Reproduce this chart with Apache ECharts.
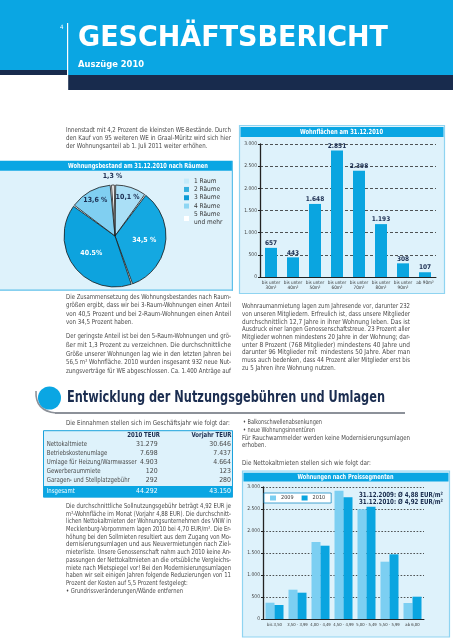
<!DOCTYPE html>
<html><head><meta charset="utf-8">
<script src="https://cdn.jsdelivr.net/npm/echarts@6/dist/echarts.min.js"></script>
<style>html,body{margin:0;padding:0;background:#fff}#c{width:453px;height:640px}</style>
</head><body><div id="c"></div>
<script>
// ---------- data ----------
const pieNames = ['1 Raum', '2 Räume', '3 Räume', '4 Räume', '5 Räume\nund mehr'];
const pieValues = [10.1, 34.5, 40.5, 13.6, 1.3];
const pieLabels = ['10,1 %', '34,5 %', '40.5%', '13,6 %', '1,3 %'];
const areaCats = ['bis unter\n30m²', 'bis unter\n40m²', 'bis unter\n50m²', 'bis unter\n60m²', 'bis unter\n70m²', 'bis unter\n80m²', 'bis unter\n90m²', 'ab 90m²'];
const areaValues = [657, 443, 1648, 2851, 2398, 1193, 308, 107];
const priceCats = ['bis 3,50', '3,50 - 3,99', '4,00 - 4,49', '4,50 - 4,99', '5,00 - 5,49', '5,50 - 5,99', 'ab 6,00'];
const priceSeriesNames = ['2009', '2010'];
const price2009 = [370, 666, 1750, 2916, 2493, 1302, 364];
const price2010 = [318, 598, 1666, 2766, 2552, 1470, 507];
const yMin = 0, yMax = 3000, yStep = 500;
const tableRows = ['Nettokaltmiete', 'Betriebskostenumlage', 'Umlage für Heizung/Warmwasser', 'Gewerberaummiete', 'Garagen- und Stellplatzgebühr'];
const table2010 = ['31.279', '7.698', '4.903', '120', '292'];
const tablePrev = ['30.646', '7.437', '4.664', '123', '280'];
const tableTotal = ['Insgesamt', '44.292', '43.150'];
const tableHead = ['2010 TEUR', 'Vorjahr TEUR'];

// ---------- styles ----------
const BLUE = '#0aa6e3', NAVY = '#182b4d', LIGHT = '#def2fb', BORDER = '#5fc0ea', TXT = '#4a4a4a';
const BODY = '"Liberation Sans Narrow","DejaVu Sans Condensed","Open Sans",sans-serif';
const HEAD = '"DejaVu Sans Condensed","Liberation Sans Narrow","Open Sans",sans-serif';
const pieColors = ['#aadff6', '#14a8e1', '#0da3de', '#80cff1', '#ffffff'];
const legendColors = ['#c6ebfa', '#35b0de', '#0c9bd5', '#8ed6f3', '#ffffff'];

const fmt = v => String(v).replace(/\B(?=(\d{3})+(?!\d))/g, '.');
const mctx = document.createElement('canvas').getContext('2d');
function fontStr(o) { return (o.weight || 'normal') + ' ' + (o.size || 6.8) + 'px ' + (o.fam || BODY); }
function measure(s, o) { mctx.font = fontStr(o); return mctx.measureText(s).width; }
function tx(x, y, s, o) {
  o = o || {};
  let sx = o.sx || 1;
  if (o.w) sx = o.w / measure(s, o);
  return { type: 'text', x: x, y: y, scaleX: sx, z: 100, silent: true,
    style: { text: s, x: 0, y: 0, font: fontStr(o), fill: o.color || TXT,
      textAlign: o.align || 'left', textVerticalAlign: 'middle' } };
}
function para(x, y0, dy, w, lines, lastJust, o) {
  o = o || {};
  const scales = lines.map(s => w / measure(s, o));
  const n = lastJust ? lines.length : lines.length - 1;
  let avg = 0; for (let i = 0; i < n; i++) avg += scales[i]; avg = n ? avg / n : 1;
  return lines.map((s, i) => tx(x, y0 + i * dy, s, Object.assign({}, o, { sx: (i < n) ? scales[i] : Math.min(avg, 1.15) })));
}
function rect(x, y, w, h, fill, stroke, lw, z) {
  return { type: 'rect', silent: true, z: z == null ? -10 : z, shape: { x: x, y: y, width: w, height: h },
    style: { fill: fill || 'transparent', stroke: stroke || 'transparent', lineWidth: lw || 0 } };
}

const G = [];
// header
G.push(rect(0, 0, 453, 75, BLUE));
G.push(rect(0, 70, 67, 5, NAVY));
G.push(rect(68, 75, 385, 15, NAVY));
G.push(rect(67, 23, 1.2, 67, '#ffffff', null, 0, -5));
G.push(tx(60, 27, '4', { size: 6, color: '#ffffff' }));
G.push(tx(78, 38.5, 'GESCHÄFTSBERICHT', { size: 29, weight: 'bold', fam: HEAD, color: '#ffffff', w: 310 }));
G.push(tx(78, 65, 'Auszüge 2010', { size: 9.5, weight: 'bold', fam: HEAD, color: '#ffffff', w: 66 }));

// intro text
G.push(...para(66, 130.7, 7.7, 165, [
  'Innenstadt mit 4,2 Prozent die kleinsten WE-Bestände. Durch',
  'den Kauf von 95 weiteren WE in Graal-Müritz wird sich hier',
  'der Wohnungsanteil ab 1. Juli 2011 weiter erhöhen.'], false));

// pie panel
G.push(rect(0, 170.5, 232, 119.5, LIGHT));
G.push(rect(0, 160.7, 232, 10, BLUE));
G.push(rect(0, 289.5, 233, 1.2, BORDER, null, 0, -5));
G.push(rect(231.8, 160.7, 1.2, 130, BORDER, null, 0, -5));
G.push(tx(138, 165.8, 'Wohnungsbestand am 31.12.2010 nach Räumen', { size: 7, weight: 'bold', color: '#ffffff', w: 140, align: 'center' }));

// chart 1 panel
G.push(rect(239.5, 125.5, 205, 168, LIGHT, '#8fd4f1', 1.2));
G.push(rect(240.5, 127, 203, 10, BLUE));
G.push(tx(341.5, 132, 'Wohnflächen am 31.12.2010', { size: 7, weight: 'bold', color: '#ffffff', w: 83, align: 'center' }));

// text under pie
G.push(...para(66, 297.3, 8.3, 165, [
  'Die Zusammensetzung des Wohnungsbestandes nach Raum-',
  'größen ergibt, dass wir bei 3-Raum-Wohnungen einen Anteil',
  'von 40,5 Prozent und bei 2-Raum-Wohnungen einen Anteil',
  'von 34,5 Prozent haben.'], false));
G.push(...para(66, 336.7, 8.65, 165, [
  'Der geringste Anteil ist bei den 5-Raum-Wohnungen und grö-',
  'ßer mit 1,3 Prozent zu verzeichnen. Die durchschnittliche',
  'Größe unserer Wohnungen lag wie in den letzten Jahren bei',
  '56,5 m² Wohnfläche. 2010 wurden insgesamt 932 neue Nut-',
  'zungsverträge für WE abgeschlossen. Ca. 1.400 Anträge auf'], true));
G.push(...para(242, 306.7, 7.67, 168, [
  'Wohnraumanmietung lagen zum Jahresende vor, darunter 232',
  'von unseren Mitgliedern. Erfreulich ist, dass unsere Mitglieder',
  'durchschnittlich 12,7 Jahre in ihrer Wohnung leben. Das ist',
  'Ausdruck einer langen Genossenschaftstreue. 23 Prozent aller',
  'Mitglieder wohnen mindestens 20 Jahre in der Wohnung; dar-',
  'unter 8 Prozent (768 Mitglieder) mindestens 40 Jahre und',
  'darunter 96 Mitglieder mit  mindestens 50 Jahre. Aber man',
  'muss auch bedenken, dass 44 Prozent aller Mitglieder erst bis',
  'zu 5 Jahren ihre Wohnung nutzen.'], false));

// section heading
G.push({ type: 'bezierCurve', silent: true, z: 5, shape: { x1: 36, y1: 391, cpx1: 35, cpy1: 411, x2: 56, y2: 413 }, style: { stroke: '#8c9199', lineWidth: 1.6, fill: null } });
G.push(rect(55, 412, 350, 2, '#8c9199', null, 0, 5));
G.push({ type: 'circle', silent: true, z: 6, shape: { cx: 49.5, cy: 398, r: 11.5 }, style: { fill: BLUE } });
G.push(tx(67, 398, 'Entwicklung der Nutzungsgebühren und Umlagen', { size: 16, weight: 'bold', fam: HEAD, color: '#1b2d50', w: 318 }));

// table
G.push(tx(66, 423.3, 'Die Einnahmen stellen sich im Geschäftsjahr wie folgt dar:', { w: 164 }));
G.push(rect(43.5, 430.7, 189, 66.5, LIGHT, '#1aa2dc', 1));
G.push(rect(44, 486, 188, 11, BLUE, null, 0, -4));
const TS = { size: 6.9 };
const labelScale = 90 / measure(tableRows[2], TS);
G.push(tx(160, 435.3, tableHead[0], { weight: 'bold', color: NAVY, align: 'right', size: 6.9, sx: labelScale }));
G.push(tx(231.5, 435.3, tableHead[1], { weight: 'bold', color: NAVY, align: 'right', size: 6.9, sx: labelScale }));
const rowY = [444.3, 453.3, 462.3, 471.7, 480.7];
tableRows.forEach((r, i) => {
  G.push(tx(46.7, rowY[i], r, { size: 6.9, sx: labelScale }));
  G.push(tx(157.7, rowY[i], table2010[i], { align: 'right', size: 6.9 }));
  G.push(tx(231, rowY[i], tablePrev[i], { align: 'right', size: 6.9 }));
});
G.push(tx(46.7, 490.8, tableTotal[0], { size: 6.9, color: '#ffffff', sx: labelScale }));
G.push(tx(157.7, 490.8, tableTotal[1], { size: 6.9, color: '#ffffff', align: 'right' }));
G.push(tx(231, 490.8, tableTotal[2], { size: 6.9, color: '#ffffff', align: 'right' }));

// text below table
G.push(...para(66, 506, 7.73, 165, [
  'Die durchschnittliche Sollnutzungsgebühr beträgt 4,92 EUR je',
  'm²-Wohnfläche im Monat (Vorjahr 4,88 EUR). Die durchschnitt-',
  'lichen Nettokaltmieten der Wohnungsunternehmen des VNW in',
  'Mecklenburg-Vorpommern lagen 2010 bei 4,70 EUR/m². Die Er-',
  'höhung bei den Sollmieten resultiert aus dem Zugang von Mo-',
  'dernisierungsumlagen und aus Neuvermietungen nach Ziel-',
  'mieterliste. Unsere Genossenschaft nahm auch 2010 keine An-',
  'passungen der Nettokaltmieten an die ortsübliche Vergleichs-',
  'miete nach Mietspiegel vor! Bei den Modernisierungsumlagen',
  'haben wir seit einigen Jahren folgende Reduzierungen von 11',
  'Prozent der Kosten auf 5,5 Prozent festgelegt:'], false));
G.push(tx(66, 591, '• Grundrissveränderungen/Wände entfernen', { w: 117 }));

// right column above chart 2
G.push(tx(243, 422.3, '• Balkonschwellenabsenkungen', { w: 79 }));
G.push(tx(243, 430, '• neue Wohnungsinnentüren', { w: 72 }));
G.push(...para(242, 438, 7.7, 168, [
  'Für Rauchwarnmelder werden keine Modernisierungsumlagen',
  'erhoben.'], false));
G.push(tx(242, 463.3, 'Die Nettokaltmieten stellen sich wie folgt dar:', { w: 129 }));

// chart 2 panel
G.push(rect(242.5, 471, 207, 166, LIGHT, '#8fd4f1', 1.2));
G.push(rect(243.5, 472.7, 205, 8.8, BLUE));
G.push(tx(345.5, 477.2, 'Wohnungen nach Preissegmenten', { size: 7, weight: 'bold', color: '#ffffff', w: 96, align: 'center' }));
G.push(tx(359, 495, '31.12.2009: Ø 4,88 EUR/m²', { size: 7, weight: 'bold', color: NAVY, w: 84 }));
G.push(tx(359, 502.3, '31.12.2010: Ø 4,92 EUR/m²', { size: 7, weight: 'bold', color: NAVY, w: 84 }));

function valueAxis(gi, dash) {
  return { gridIndex: gi, type: 'value', min: yMin, max: yMax, interval: yStep,
    axisLine: { show: true, lineStyle: { color: '#222', width: 1.3 } },
    axisTick: { show: true, length: 2, lineStyle: { color: '#222' } },
    axisLabel: { fontSize: 5, color: '#444', margin: 3, fontFamily: BODY, formatter: v => fmt(v) },
    splitLine: { show: true, lineStyle: { type: dash, color: '#2a2a2a', width: 0.8 } } };
}
function catAxis(gi, data, fs) {
  return { gridIndex: gi, type: 'category', data: data,
    axisLine: { lineStyle: { color: '#222', width: 1 } },
    axisTick: { length: 2, lineStyle: { color: '#222' } },
    axisLabel: { fontSize: fs, lineHeight: 5.4, color: '#333', margin: 3, interval: 0, fontFamily: BODY } };
}

const pieLabelStyle = i => ({ fontSize: 7, fontWeight: 'bold', fontFamily: BODY, color: (i === 1 || i === 2) ? '#ffffff' : '#1b2d50' });
// transparent label rings: each shows the labels of the listed slices at its own radius
function labelRing(radius, shown) {
  return { type: 'pie', silent: true, z: 3, center: [115, 236], radius: radius, startAngle: 90,
    labelLine: { show: false },
    data: pieNames.map((n, i) => ({ name: n, value: pieValues[i], itemStyle: { color: 'rgba(0,0,0,0)' },
      label: Object.assign({ show: shown.indexOf(i) >= 0, position: 'inside', formatter: pieLabels[i] }, pieLabelStyle(i)) })) };
}

const option = {
  animation: false,
  backgroundColor: '#ffffff',
  graphic: { elements: G },
  grid: [
    { left: 260, top: 144, width: 176, height: 133 },
    { left: 263, top: 487, width: 161, height: 132 }
  ],
  xAxis: [catAxis(0, areaCats, 4.6), catAxis(1, priceCats, 4.2)],
  yAxis: [valueAxis(0, [3, 2]), valueAxis(1, [1.6, 1.6])],
  legend: [
    { data: pieNames.map((n, i) => ({ name: n, itemStyle: { color: legendColors[i], borderWidth: 0 } })),
      left: 184, top: 177, orient: 'vertical', icon: 'rect', itemWidth: 5, itemHeight: 5, itemGap: 0,
      itemStyle: { borderWidth: 0 },
      selectedMode: false, padding: 0, textStyle: { fontSize: 6.5, color: '#333', lineHeight: 8.3, fontFamily: BODY } },
    { data: priceSeriesNames, left: 264, top: 493, icon: 'rect', itemWidth: 6, itemHeight: 5, itemGap: 8,
      selectedMode: false, backgroundColor: '#ffffff', borderColor: '#1b8ec6', borderWidth: 0.8, borderRadius: 0,
      padding: [2, 6], textStyle: { fontSize: 5.5, color: '#333', fontFamily: BODY } }
  ],
  series: [
    { type: 'bar', xAxisIndex: 0, yAxisIndex: 0, data: areaValues, barWidth: 12,
      itemStyle: { color: '#0aa5e0' },
      label: { show: true, position: 'top', distance: 1, fontSize: 6.5, fontWeight: 'bold', color: '#1b2d50', fontFamily: BODY, formatter: p => fmt(p.value) } },
    { type: 'bar', name: priceSeriesNames[0], xAxisIndex: 1, yAxisIndex: 1, data: price2009, barWidth: 9, barGap: '0%',
      itemStyle: { color: '#7ccff2' } },
    { type: 'bar', name: priceSeriesNames[1], xAxisIndex: 1, yAxisIndex: 1, data: price2010, barWidth: 9, barGap: '0%',
      itemStyle: { color: '#0aa5e0' } },
    { type: 'pie', silent: true, z: 1, center: [115, 236], radius: 51, label: { show: false }, labelLine: { show: false },
      data: [{ value: 1, name: '_bg', itemStyle: { color: '#ffffff' } }] },
    { type: 'pie', silent: true, z: 2, center: [115, 236], radius: 51, startAngle: 90, padAngle: 1.6,
      itemStyle: { borderColor: '#1a1a1a', borderWidth: 0.8 },
      label: { show: false }, labelLine: { show: false },
      data: pieNames.map((n, i) => ({ name: n, value: pieValues[i], itemStyle: { color: pieColors[i] } })) },
    labelRing([0, 53], [1, 2]),
    labelRing([24, 51], [0, 3]),
    labelRing([50, 64], [4])
  ]
};
const chart = echarts.init(document.getElementById('c'), null, { renderer: 'canvas' });
chart.setOption(option);
</script>
</body></html>
